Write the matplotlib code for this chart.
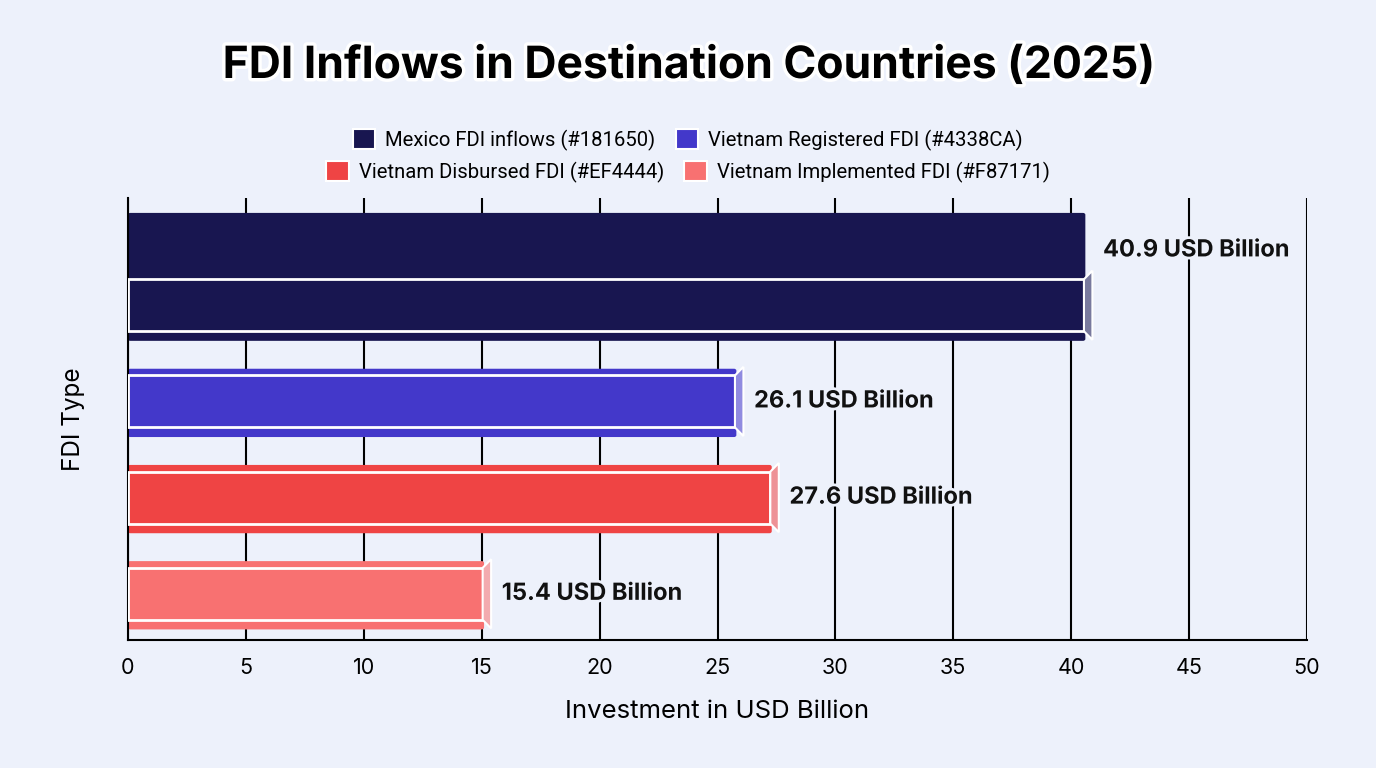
import matplotlib
matplotlib.use("Agg")
import matplotlib.pyplot as plt
from matplotlib.patches import Patch, Polygon, FancyBboxPatch
import matplotlib.patheffects as pe
import numpy as np

# ---- data ----
categories = ["Mexico FDI inflows", "Vietnam Registered FDI",
              "Vietnam Disbursed FDI", "Vietnam Implemented FDI"]
values = [40.9, 26.1, 27.6, 15.4]
colors = ["#181650", "#4338CA", "#EF4444", "#F87171"]
x_ticks = [0, 5, 10, 15, 20, 25, 30, 35, 40, 45, 50]

# ---- style ----
BG = "#EDF1FB"
inner_h = 0.27          # half height of front bar
outer_top = [-0.96, -0.34, -0.34, -0.34]
outer_bot = 0.37
bevel_w = 0.36
bevel_half = 0.36
label_dy = [-0.57, 0.0, 0.0, 0.0]

def blend(c, a=0.5):
    rgb = np.array(matplotlib.colors.to_rgb(c))
    bg = np.array(matplotlib.colors.to_rgb(BG))
    return tuple(rgb * (1 - a) + bg * a)

fig = plt.figure(figsize=(13.76, 7.68), dpi=100, facecolor=BG)
ax = fig.add_axes([128/1376, 1 - 640/768, (1307-128)/1376, (640-198)/768])
ax.set_facecolor(BG)

ypos = np.arange(len(categories))
ax.set_xlim(0, 50)
ax.set_ylim(3.48, -1.115)

for xt in x_ticks:
    ax.axvline(xt, color="black", lw=1.5, zorder=0)

for i, (v, c) in enumerate(zip(values, colors)):
    y = ypos[i]
    ax.add_patch(FancyBboxPatch((0, y + outer_top[i]), v - 0.3, outer_bot - outer_top[i],
                                boxstyle="round,pad=0,rounding_size=0.1",
                                mutation_aspect=0.2,
                                facecolor=c, edgecolor="none", zorder=2))
    ax.barh(y, v - bevel_w, height=2 * inner_h, left=0, color=c,
            edgecolor="white", linewidth=2, zorder=3)
    x0 = v - bevel_w
    poly = Polygon([(x0, y - inner_h), (v, y - bevel_half), (v, y + bevel_half), (x0, y + inner_h)],
                   closed=True, facecolor=blend(c, 0.45), edgecolor="white", lw=1.5, zorder=4)
    ax.add_patch(poly)
    ax.text(v + 0.45, y + label_dy[i], f"{v} USD Billion", va="center", ha="left",
            fontsize=17, fontweight="bold", family="Inter", color="#111111", zorder=5,
            path_effects=[pe.withStroke(linewidth=4, foreground=BG)])

ax.set_xticks(x_ticks)
ax.set_xticklabels([str(t) for t in x_ticks], fontsize=15.5, family="Inter")
ax.tick_params(axis="x", length=0, pad=13)
ax.set_yticks([])
for s in ["top", "right"]:
    ax.spines[s].set_visible(False)
ax.spines["left"].set_linewidth(1.5)
ax.spines["bottom"].set_linewidth(1.5)
ax.set_xlabel("Investment in USD Billion", fontsize=18.5, family="Inter", labelpad=16)
ax.set_ylabel("FDI Type", fontsize=17.5, family="Inter", labelpad=31)

fig.text(0.5, 1 - 66/768, "FDI Inflows in Destination Countries (2025)", ha="center", va="center",
         fontsize=32, fontweight="bold", family="Inter", color="black",
         path_effects=[pe.withStroke(linewidth=5, foreground="white")])

def handles(idx):
    return [Patch(facecolor=colors[i], edgecolor="white", linewidth=1.5,
                  label=f"{categories[i]} ({colors[i].upper()})") for i in idx]

leg_kw = dict(ncol=2, frameon=False, handlelength=1.1, handleheight=1.1,
              handletextpad=0.5, columnspacing=1.0,
              prop={"family": "Roboto", "size": 14.6})
l1 = fig.legend(handles=handles([0, 1]), loc="center", bbox_to_anchor=(0.5, 1 - 140/768), **leg_kw)
l2 = fig.legend(handles=handles([2, 3]), loc="center", bbox_to_anchor=(0.5, 1 - 172/768), **leg_kw)

fig.savefig("out.png", dpi=100, facecolor=BG)
